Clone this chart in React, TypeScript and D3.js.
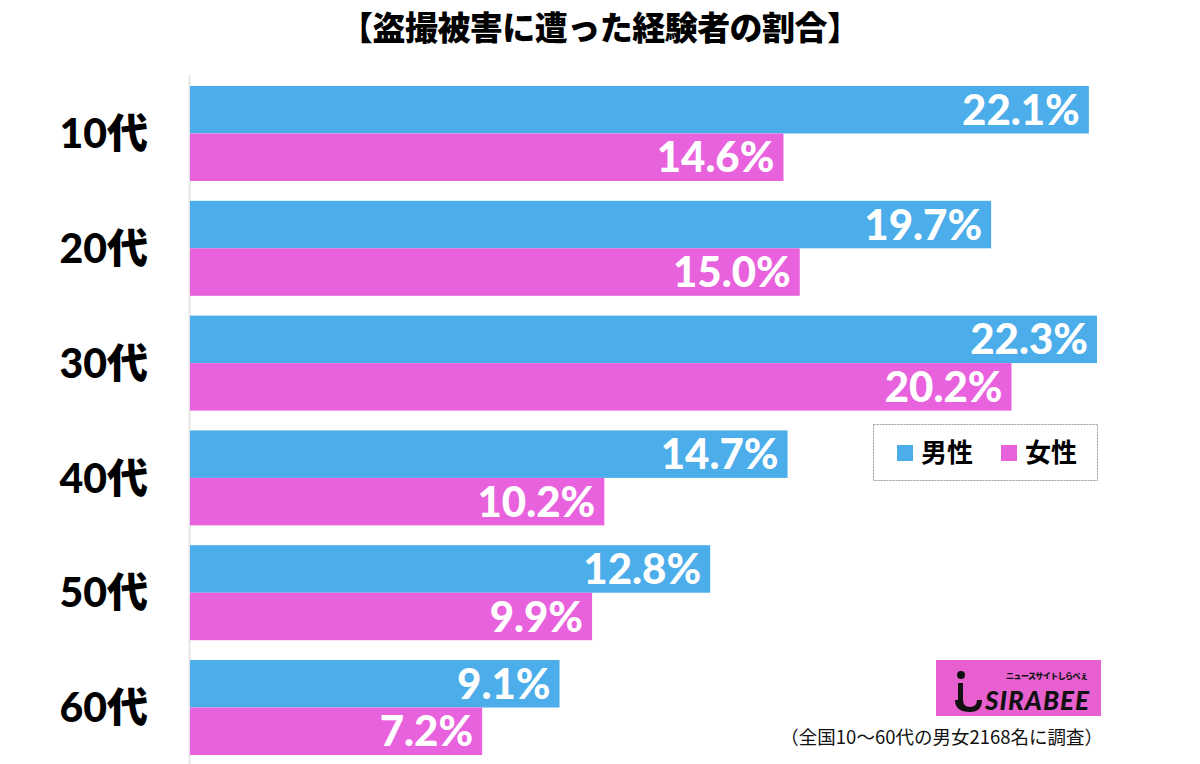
import React from "react"
import * as d3 from "d3"

const categories = ["10代", "20代", "30代", "40代", "50代", "60代"]
const male = [22.1, 19.7, 22.3, 14.7, 12.8, 9.1]
const female = [14.6, 15.0, 20.2, 10.2, 9.9, 7.2]
const seriesNames = ["男性", "女性"]
const title = "【盗撮被害に遭った経験者の割合】"
const note = "（全国10〜60代の男女2168名に調査）"

const W = 1200
const H = 764
const BLUE = "#4badea"
const PINK = "#e962dd"
const numFont = "Lato, 'Noto Sans CJK JP', sans-serif"
const jpFont = "'Noto Sans CJK JP', sans-serif"

const App = () => {
    const x = d3.scaleLinear().domain([0, 22.3]).range([189, 1097])
    const y = d3.scaleBand().domain(categories).range([86, 755]).paddingInner(0.1725)
    const half = y.bandwidth() / 2
    const colors = [BLUE, PINK]
    const series = [male, female]

    return (
        <svg width={W} height={H} style={{display: "block"}}>
            <style>{`body{margin:0}`}</style>
            <rect width={W} height={H} fill="#fff"/>
            <text x={600} y={40} textAnchor="middle" fontFamily={jpFont} fontWeight={900}
                  fontSize={33} textLength={520}>{title}</text>
            <line x1={189.5} x2={189.5} y1={75} y2={764} stroke="#e6e6e6" strokeWidth={2}/>

            {categories.map((c, i) => (
                <g key={c}>
                    <text x={148} y={y(c)! + half} dy="0.36em" textAnchor="end" fontFamily={numFont}
                          fontWeight={900} fontSize={41}>{c}</text>
                    {series.map((s, j) => {
                        const top = y(c)! + j * half
                        return (
                            <g key={j}>
                                <rect x={x(0) + 1} y={top} width={x(s[i]) - x(0) - 1} height={half}
                                      fill={colors[j]}/>
                                <text x={x(s[i]) - 9} y={top + half / 2} dy="0.36em" textAnchor="end"
                                      fill="#fff" fontFamily={numFont} fontWeight={900}
                                      fontSize={42}>{s[i].toFixed(1)}%</text>
                            </g>
                        )
                    })}
                </g>
            ))}

            <g>
                <rect x={873.5} y={424.5} width={224} height={56} fill="#fff" stroke="#999"
                      strokeDasharray="2,1"/>
                {seriesNames.map((n, j) => (
                    <g key={n} transform={`translate(${897 + j * 104},0)`}>
                        <rect x={0} y={445} width={16} height={16} fill={colors[j]}/>
                        <text x={24} y={453} dy="0.36em" fontFamily={jpFont} fontWeight={700}
                              fontSize={26}>{n}</text>
                    </g>
                ))}
            </g>

            <g>
                <rect x={936} y={660} width={165} height={56} fill="#e85fcf"/>
                <circle cx={961} cy={675} r={4} fill="#111"/>
                <path d="M958,683 L963,683 L963,700 Q963,707 970,707 Q977,707 977,700 L982,700 Q982,712 970,712 Q955,712 955,700 L958,700 Z"
                      fill="#111"/>
                <text x={1006} y={679} fontFamily={jpFont} fontWeight={900} fontSize={8}
                      textLength={82} fill="#111">ニュースサイトしらべぇ</text>
                <text x={985} y={710} fontFamily={numFont} fontStyle="italic" fontWeight={900}
                      fontSize={26} textLength={104} fill="#111">SIRABEE</text>
            </g>

            <text x={1103} y={737} dy="0.36em" textAnchor="end" fontFamily={jpFont} fontSize={18.5}
                  fill="#111">{note}</text>
        </svg>
    )
}

export default App
